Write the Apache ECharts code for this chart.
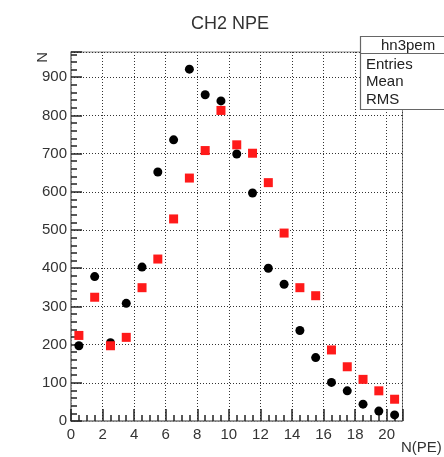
<!DOCTYPE html>
<html>
<head>
<meta charset="utf-8">
<script src="https://cdn.jsdelivr.net/npm/echarts@6/dist/echarts.min.js"></script>
<style>html,body{margin:0;padding:0;background:#fff;}#c{width:444px;height:457px;}</style>
</head>
<body>
<div id="c"></div>
<script>
// N(PE) bin centers
var binCenters = [0.5,1.5,2.5,3.5,4.5,5.5,6.5,7.5,8.5,9.5,10.5,11.5,12.5,13.5,14.5,15.5,16.5,17.5,18.5,19.5,20.5];
// black circle series
var blackCounts = [197,378,205,308,403,652,736,921,854,838,699,597,400,358,237,166,101,79,44,26,16];
// red square series
var redCounts = [224,324,197,219,349,424,529,636,708,813,723,701,624,492,349,328,186,142,109,79,57];
var statLabels = ['Entries','Mean','RMS'];
var histName = 'hn3pem';

function pairs(xs, ys){ return xs.map(function(x,i){ return [x, ys[i]]; }); }

var font = '"Liberation Sans", Arial, sans-serif';
var chart = echarts.init(document.getElementById('c'), null, {renderer:'canvas'});
var statTexts = statLabels.map(function(s, i){
  return {type:'text', left:366, top:[57,74,92][i], z:101,
    style:{text:s, font:'15px ' + font, fill:'#222'}};
});
chart.setOption({
  animation:false,
  backgroundColor:'#fff',
  title:{text:'CH2 NPE', left:186, top:10,
    textStyle:{fontFamily:font, fontSize:18, fontWeight:'normal', color:'#333'}},
  grid:{left:71, right:25, top:52, bottom:36, show:true, borderColor:'#888', borderWidth:1},
  xAxis:{type:'value', min:0, max:21, interval:2,
    name:'N(PE)', nameLocation:'end', nameGap:0,
    nameTextStyle:{fontFamily:font, fontSize:15, color:'#333', align:'right', verticalAlign:'top', padding:[19,0,0,0]},
    axisLine:{lineStyle:{color:'#888', width:1.5}},
    axisTick:{inside:true, length:12, lineStyle:{color:'#222', width:1.5}},
    minorTick:{show:true, splitNumber:4, length:6, lineStyle:{color:'#222', width:1.5}},
    axisLabel:{fontFamily:font, fontSize:15, color:'#333', margin:6, showMaxLabel:false},
    splitLine:{show:true, lineStyle:{color:'#333', type:[1,2], width:1}}
  },
  yAxis:{type:'value', min:0, max:966, interval:100,
    name:'N', nameLocation:'end', nameGap:0, nameRotate:90,
    nameTextStyle:{fontFamily:font, fontSize:15, color:'#333', align:'right', verticalAlign:'bottom', padding:[0,0,21,0]},
    axisLine:{lineStyle:{color:'#888', width:1.5}},
    axisTick:{inside:true, length:11, lineStyle:{color:'#222', width:1.5}},
    minorTick:{show:true, splitNumber:5, length:6, lineStyle:{color:'#222', width:1.5}},
    axisLabel:{fontFamily:font, fontSize:15, color:'#333', margin:4, showMaxLabel:false},
    splitLine:{show:true, lineStyle:{color:'#333', type:[1,2], width:1}}
  },
  series:[
    {type:'scatter', name:'black', data:pairs(binCenters, blackCounts), symbol:'circle', symbolSize:9,
      itemStyle:{color:'#000', opacity:1}, z:3},
    {type:'scatter', name:'red', data:pairs(binCenters, redCounts), symbol:'rect', symbolSize:9,
      itemStyle:{color:'#ff1a1a', opacity:1}, z:4}
  ],
  graphic:[
    {type:'rect', shape:{x:360.5, y:36.5, width:110, height:73}, z:100,
      style:{fill:'#fff', stroke:'#666', lineWidth:1.2}},
    {type:'line', shape:{x1:360.5, y1:53.5, x2:444, y2:53.5}, z:101,
      style:{stroke:'#666', lineWidth:1.2}},
    {type:'text', left:381, top:38, z:101, style:{text:histName, font:'15px ' + font, fill:'#222'}}
  ].concat(statTexts)
});
</script>
</body>
</html>
